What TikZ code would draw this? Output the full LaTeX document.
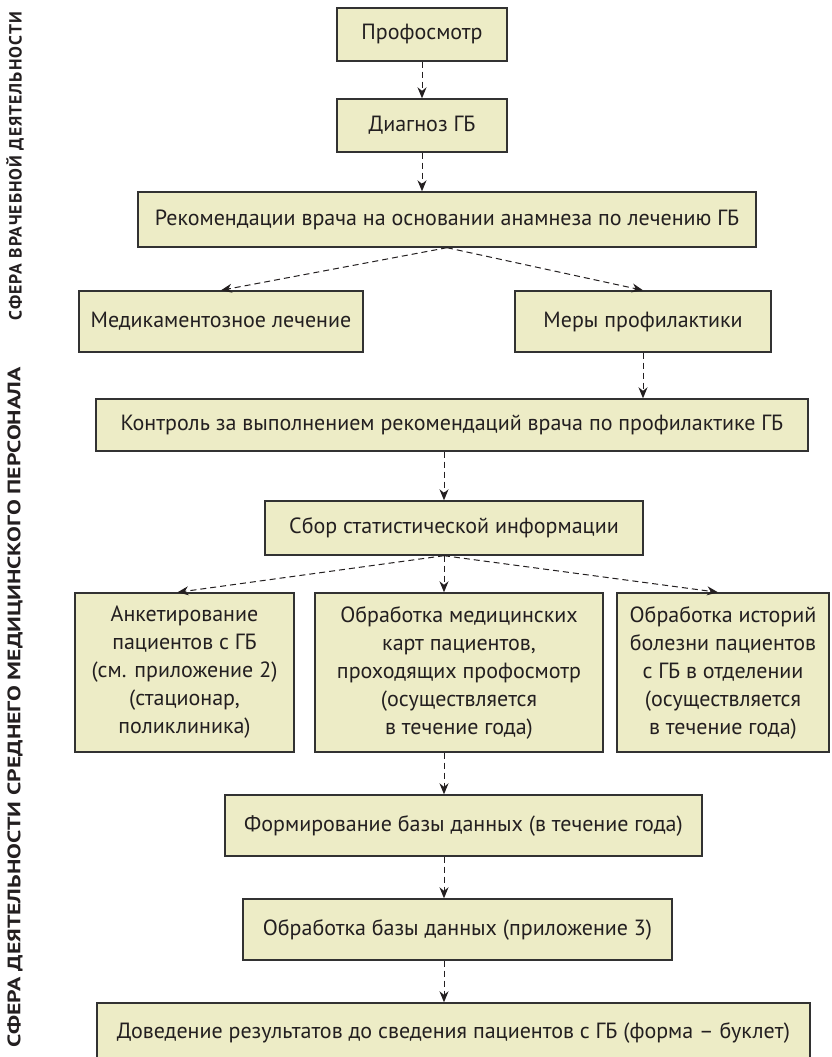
\documentclass[tikz,border=0pt]{standalone}
\usepackage{fontspec}
\setmainfont{PT Sans}
\usetikzlibrary{arrows.meta}
\definecolor{boxfill}{RGB}{237,236,198}
\definecolor{boxline}{RGB}{50,50,50}
\definecolor{txt}{RGB}{35,31,32}
\tikzset{
  fbox/.style={draw=boxline, fill=boxfill, line width=1.4pt, inner sep=0pt,
    align=center, text=txt, font=\fontsize{22}{28}\selectfont,
    execute at begin node=\setlength{\baselineskip}{28pt}},
  conn/.style={draw=txt, line width=1pt, dash pattern=on 6pt off 4pt,
    -{Stealth[length=11pt,width=9pt]}},
  sidelabel/.style={rotate=90, text=txt, inner sep=0pt}
}
\begin{document}
\begin{tikzpicture}[x=1pt,y=-1pt]
\clip (0,0) rectangle (831,1057);
\useasboundingbox (0,0) rectangle (831,1057);
\fill[white] (0,0) rectangle (831,1057);

\node[sidelabel] (lab1) at (15,166) {\resizebox{308pt}{!}{\bfseries\addfontfeatures{LetterSpace=6}СФЕРА ВРАЧЕБНОЙ ДЕЯТЕЛЬНОСТИ}};
\node[sidelabel] (lab2) at (15,707) {\resizebox{680pt}{13pt}{\bfseries СФЕРА ДЕЯТЕЛЬНОСТИ СРЕДНЕГО МЕДИЦИНСКОГО ПЕРСОНАЛА}};

\coordinate (ax) at (444,0);

\node[fbox, minimum width=170pt, minimum height=53pt] (b1) at (422,34.5) {Профосмотр};
\node[fbox, minimum width=170pt, minimum height=53pt] (b2) at (422,125.5) {Диагноз ГБ};
\node[fbox, minimum width=618pt, minimum height=55pt] (b3) at (447,219.5) {Рекомендации врача на основании анамнеза по лечению ГБ};
\node[fbox, minimum width=284pt, minimum height=61pt] (b4) at (221,321.5) {Медикаментозное лечение};
\node[fbox, minimum width=256pt, minimum height=61pt] (b5) at (643,321.5) {Меры профилактики};
\node[fbox, minimum width=712pt, minimum height=52pt] (b6) at (452,425) {Контроль за выполнением рекомендаций врача по профилактике ГБ};
\node[fbox, minimum width=378pt, minimum height=54pt] (b7) at (454,528) {Сбор статистической информации};
\node[fbox, minimum width=219pt, minimum height=159pt] (b8) at (184.5,672.5) {Анкетирование\\пациентов с ГБ\\(см. приложение 2)\\(стационар,\\поликлиника)};
\node[fbox, minimum width=288pt, minimum height=159pt] (b9) at (459,672.5) {Обработка медицинских\\карт пациентов,\\проходящих профосмотр\\(осуществляется\\в течение года)};
\node[fbox, minimum width=212pt, minimum height=159pt] (b10) at (723,672.5) {Обработка историй\\болезни пациентов\\с ГБ в отделении\\(осуществляется\\в течение года)};
\node[fbox, minimum width=477pt, minimum height=61pt] (b11) at (463.5,825.5) {Формирование базы данных (в течение года)};
\node[fbox, minimum width=429pt, minimum height=61pt] (b12) at (457.5,929.5) {Обработка базы данных (приложение 3)};
\node[fbox, minimum width=713pt, minimum height=70pt] (b13) at (453.5,1038) {\raisebox{14pt}{Доведение результатов до сведения пациентов с ГБ (форма – буклет)}};

\draw[conn] (b1.south) -- (b2.north);
\draw[conn] (b2.south) -- (b2.south |- b3.north);
\draw[conn] (b3.south) -- (b4.north);
\draw[conn] (b3.south) -- (b5.north);
\draw[conn] (b5.south) -- (b5.south |- b6.north);
\draw[conn] (ax |- b6.south) -- (ax |- b7.north);
\draw[conn] (ax |- b7.south) -- ([xshift=-7pt]b8.north);
\draw[conn] (ax |- b7.south) -- (ax |- b9.north);
\draw[conn] (ax |- b7.south) -- ([xshift=-5pt]b10.north);
\draw[conn] (ax |- b9.south) -- (ax |- b11.north);
\draw[conn] (ax |- b11.south) -- (ax |- b12.north);
\draw[conn] (ax |- b12.south) -- (ax |- b13.north);
\end{tikzpicture}
\end{document}
